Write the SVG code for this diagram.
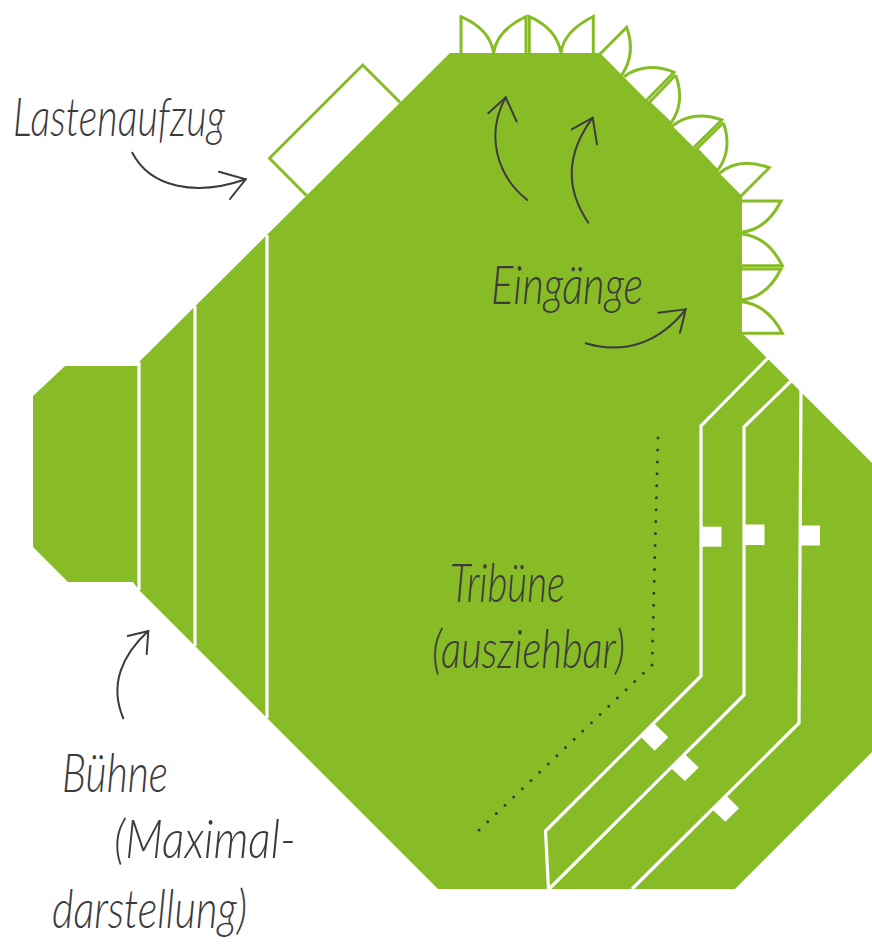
<svg xmlns="http://www.w3.org/2000/svg" width="872" height="947" viewBox="0 0 872 947">
<style>
.floor{fill:#87bc26}
.w{fill:none;stroke:#fff;stroke-width:3.2}
.m{fill:#fff}
.d{fill:#fff;stroke:#87bc26;stroke-width:3;stroke-linejoin:miter}
.a{fill:none;stroke:#3c3a3c;stroke-width:2;stroke-linecap:round;stroke-linejoin:miter}
.dots{fill:none;stroke:#3c3a3c;stroke-width:3;stroke-linecap:round;stroke-dasharray:0 11.95}
.t{font-family:"Lato","Open Sans","Liberation Sans",sans-serif;font-style:italic;font-weight:300;font-size:54px;fill:#3c3a3c}
</style>
<rect width="872" height="947" fill="#fff"/>
<g id="lastenaufzug">
<path class="d" d="M400 102.3L362.7 65L269.5 158.3L306.7 195.7"/>
</g>
<g id="eingaenge-tueren">
<path class="d" d="M461 53V16.7C478 24 491 36 493.6 53C496 36 510 24 526 16.7V53"/>
<path class="d" d="M529.3 53V16.7C546 24 558 36 561 53C563 36 578 24 593.3 16.5V53"/>
<path class="d" d="M600 54L626.7 27.3C633 45 632 60 621.7 75"/>
<path class="d" d="M624 76.7C638 66 657 65 674 72.3L646 100.7"/>
<path class="d" d="M675.7 75L649 102.7L670.7 123.3C682 108 681 90 675.7 75"/>
<path class="d" d="M672.3 126C686 115 704 113 721.7 120L694 147.3"/>
<path class="d" d="M723.3 122.7L696.7 149L717.3 170.7C729 156 729 138 723.3 122.7"/>
<path class="d" d="M719.3 173.3C733 162 751 161 769.3 167.7L741 196"/>
<path class="d" d="M742 201H781C772 219 760 230 742 232.3"/>
<path class="d" d="M742 234C760 236 773 247 782.3 265.7H742"/>
<path class="d" d="M742 269H781C772 287 760 298 742 300"/>
<path class="d" d="M742 301.7C760 304 773 315 782.3 333.3H742"/>
</g>
<g id="saal">
<path class="floor" d="M450 53H600L742 196V333L872 463V752L735 889H438L139 590L133 582H68L33 547V396L65 366H139V362Z"/>
</g>
<g id="buehne">
<path class="w" d="M139 362V590M195 306V646M267 235V718"/>
</g>
<g id="tribuene">
<path class="w" d="M768 358L701 426V676L545.5 831L548.5 889"/>
<path class="w" d="M791 381L744 427V695L549 889"/>
<path class="w" d="M801 390L799 723L632 889"/>
<rect class="m" x="701.5" y="526.7" width="20" height="20"/>
<rect class="m" x="744" y="524.5" width="20.5" height="20.5"/>
<rect class="m" x="800" y="525.5" width="20" height="20"/>
<path class="m" d="M654 723.3L668.3 737.3L654.7 750.7L640.7 736.7Z"/>
<path class="m" d="M685 754.3L698.7 767.5L685 781L671 768Z"/>
<path class="m" d="M725 794.3L739 808.3L725.3 821.7L712 809.3Z"/>
<path class="dots" d="M658 438L652 665L479 830"/>
</g>
<g id="connectors">
<path class="a" d="M527.3 200C497 176 485 135 505.7 97.3"/>
<path class="a" d="M488.3 113.3L505.7 97.3L516.7 121.7"/>
<path class="a" d="M588.3 222.7C566 190 565 155 592.7 117.7"/>
<path class="a" d="M571.7 129.3L592.7 117.7L597 144.3"/>
<path class="a" d="M585.7 343.3C625 355 660 342 685.7 309.3"/>
<path class="a" d="M658.3 312.7L685.7 309.3L680 332.7"/>
<path class="a" d="M132.3 152.7C150 187 195 197 245.7 179.3"/>
<path class="a" d="M219 171.7L245.7 179.3L230 199"/>
<path class="a" d="M123.3 718.3C109 685 122 655 148.3 631"/>
<path class="a" d="M127.7 636L148.3 631L146.7 654"/>
</g>
<g id="labels">
<text class="t" x="13" y="136" textLength="212" lengthAdjust="spacingAndGlyphs">Lastenaufzug</text>
<text class="t" x="491" y="304" textLength="152" lengthAdjust="spacingAndGlyphs">Eingänge</text>
<text class="t" x="450" y="602" textLength="115" lengthAdjust="spacingAndGlyphs">Tribüne</text>
<text class="t" x="432" y="668" textLength="193" lengthAdjust="spacingAndGlyphs">(ausziehbar)</text>
<text class="t" x="62" y="792" textLength="106" lengthAdjust="spacingAndGlyphs">Bühne</text>
<text class="t" x="114" y="858" textLength="182" lengthAdjust="spacingAndGlyphs">(Maximal-</text>
<text class="t" x="52" y="928" textLength="195" lengthAdjust="spacingAndGlyphs">darstellung)</text>
</g>
</svg>
